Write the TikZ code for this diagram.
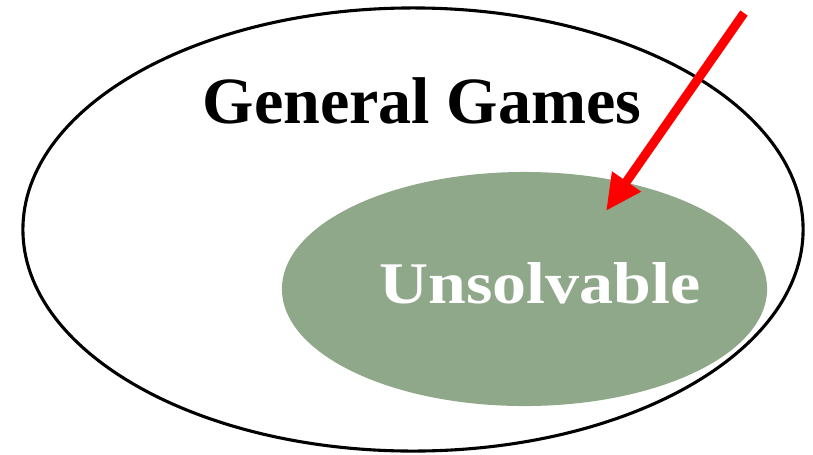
\documentclass[tikz,border=0pt]{standalone}
\usepackage{fontspec}
\usepackage{tikz}
\usetikzlibrary{positioning,arrows.meta,shapes.geometric}
\newfontfamily\setfont{Liberation Serif}
\newfontfamily\setfontwide[FakeStretch=1.15]{Liberation Serif}
\definecolor{sagegreen}{HTML}{8FA88A}
\definecolor{pointred}{HTML}{FF0000}
\tikzset{
  setbox/.style={ellipse,draw=black,line width=2.2pt,inner sep=0pt},
  subbox/.style={ellipse,fill=sagegreen,draw=none,inner sep=0pt},
  bigtxt/.style={font=\setfont\bfseries\fontsize{47}{51}\selectfont,inner sep=0pt,anchor=base},
  subtxt/.style={font=\setfontwide\bfseries\fontsize{42}{46}\selectfont,text=white,inner sep=0pt,anchor=base},
  pointer/.style={-{Triangle[length=0.9cm,width=0.82cm]},draw=pointred,line width=6.4pt},
}
\begin{document}
\begin{tikzpicture}[x=0.025cm,y=-0.025cm]
  \useasboundingbox (0,0) rectangle (813,454);
  % ---- outer set ----
  \node[setbox,minimum width=19.5cm,minimum height=11.075cm] (games) at (413,229.5) {};
  \node[bigtxt] (gameslbl) at (422,123) {General Games};
  % ---- inner set ----
  \node[subbox,minimum width=12.125cm,minimum height=5.85cm] (unsolv) at (524.5,289) {};
  \node[subtxt] (unsolvlbl) at (540,303) {Unsolvable};
  % ---- pointer ----
  \coordinate (tail) at (744,13);
  \coordinate (tip) at (606,211);
  \draw[pointer] (tail) -- (tip);
\end{tikzpicture}
\end{document}
